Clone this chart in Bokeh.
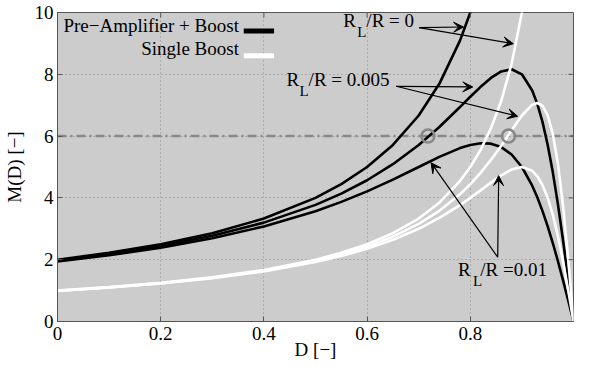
from bokeh.plotting import figure
from bokeh.models import (Range1d, FixedTicker, Label, Arrow, VeeHead, Span)
from bokeh.embed import file_html
from bokeh.resources import INLINE

# ---------------- data ----------------
D_values = [0, 0.1, 0.2, 0.3, 0.4, 0.5, 0.55, 0.6, 0.65, 0.7, 0.74, 0.78,
            0.8, 0.82, 0.84, 0.86, 0.88, 0.9, 0.92, 0.93, 0.94, 0.95, 0.96,
            0.97, 0.98, 0.99, 1.0]

single_r0 = [1.0, 1.111, 1.25, 1.429, 1.667, 2.0, 2.222, 2.5, 2.857, 3.333,
             3.846, 4.545, 5.0, 5.556, 6.25, 7.143, 8.333, 10.0, 12.5]
single_r005 = [0.995, 1.104, 1.240, 1.414, 1.644, 1.961, 2.169, 2.424, 2.745,
               3.158, 3.581, 4.120, 4.444, 4.813, 5.229, 5.691, 6.186, 6.667,
               7.018, 7.071, 6.977, 6.667, 6.061, 5.085, 3.704, 1.961, 0]
single_r01 = [0.990, 1.098, 1.231, 1.400, 1.622, 1.923, 2.118, 2.353, 2.642,
              3.000, 3.351, 3.767, 4.000, 4.245, 4.494, 4.730, 4.918, 5.000,
              4.878, 4.698, 4.412, 4.000, 3.448, 2.752, 1.923, 0.990, 0]

pre_r0 = [2.0, 2.222, 2.5, 2.857, 3.333, 4.0, 4.444, 5.0, 5.714, 6.667,
          7.692, 9.091, 10.0, 11.111]
pre_r005 = [1.970, 2.182, 2.443, 2.772, 3.200, 3.774, 4.138, 4.571, 5.091,
            5.714, 6.295, 6.940, 7.273, 7.595, 7.882, 8.092, 8.163, 8.000,
            7.477, 7.035, 6.452, 5.714, 4.819, 3.774, 2.597, 1.325, 0]
pre_r01 = [1.942, 2.143, 2.388, 2.692, 3.077, 3.571, 3.871, 4.211, 4.590,
           5.000, 5.328, 5.612, 5.714, 5.769, 5.755, 5.645, 5.405, 5.000,
           4.396, 4.011, 3.571, 3.077, 2.532, 1.942, 1.316, 0.664, 0]

target_gain = 6
circle_D = [0.718, 0.874]
circle_M = [6, 6]

x_ticks = [0, 0.2, 0.4, 0.6, 0.8]
x_tick_labels = ["0", "0.2", "0.4", "0.6", "0.8"]
y_ticks = [0, 2, 4, 6, 8, 10]
y_tick_labels = ["0", "2", "4", "6", "8", "10"]

legend_labels = ["Pre\u2212Amplifier + Boost", "Single Boost"]

FONT = "Liberation Serif"
FS = "19px"
FRAME_W, FRAME_H = 521, 309

# ---------------- figure ----------------
p = figure(width=574, height=364, x_range=Range1d(0, 1), y_range=Range1d(0, 10),
           output_backend="svg", toolbar_location=None,
           min_border_left=52, min_border_right=1, min_border_top=12,
           min_border_bottom=43)
p.background_fill_color = "#cccccc"
p.border_fill_color = "white"
p.outline_line_color = "#555555"
p.outline_line_width = 1

for ax in (p.xaxis[0], p.yaxis[0]):
    ax.major_tick_in = 5
    ax.major_tick_out = 0
    ax.minor_tick_line_color = None
    ax.axis_line_color = "#555555"
    ax.major_tick_line_color = "#555555"
    ax.major_label_text_font = FONT
    ax.major_label_text_font_size = FS
    ax.major_label_text_color = "black"
    ax.axis_label_text_font = FONT
    ax.axis_label_text_font_size = FS
    ax.axis_label_text_font_style = "normal"
    ax.axis_label_text_color = "black"

p.xaxis.ticker = FixedTicker(ticks=x_ticks)
p.yaxis.ticker = FixedTicker(ticks=y_ticks)
p.xaxis.major_label_overrides = dict(zip(x_ticks, x_tick_labels))
p.yaxis.major_label_overrides = dict(zip(y_ticks, y_tick_labels))
p.xaxis.axis_label = "D [\u2212]"
p.yaxis.axis_label = "M(D) [\u2212]"
p.xaxis.major_label_standoff = 5
p.yaxis.major_label_standoff = 4
p.xaxis.axis_label_standoff = -4
p.yaxis.axis_label_standoff = 7

p.xgrid.ticker = FixedTicker(ticks=x_ticks)
p.ygrid.ticker = FixedTicker(ticks=y_ticks)
for g in (p.xgrid[0], p.ygrid[0]):
    g.grid_line_color = "#8a8a8a"
    g.grid_line_dash = "1 3"
    g.grid_line_width = 1

# mirrored inward ticks on the right and top edges of the box
tick_dx = 5 / FRAME_W
tick_dy = 5 / FRAME_H * 10
for t in y_ticks[1:-1]:
    p.add_layout(Arrow(end=None, x_start=1, y_start=t, x_end=1 - tick_dx, y_end=t,
                       line_color="#555555", line_width=1))
for t in x_ticks[1:]:
    p.add_layout(Arrow(end=None, x_start=t, y_start=10, x_end=t, y_end=10 - tick_dy,
                       line_color="#555555", line_width=1))

# reference level
p.add_layout(Span(location=target_gain, dimension="width", line_color="#888888",
                  line_width=2.5, line_dash="9 4 2 4", level="underlay"))

# curves
LW = 2.6
p.line(D_values[:len(pre_r0)], pre_r0, line_color="black", line_width=LW)
p.line(D_values, pre_r005, line_color="black", line_width=LW)
p.line(D_values, pre_r01, line_color="black", line_width=LW)
p.line(D_values[:len(single_r0)], single_r0, line_color="white", line_width=LW)
p.line(D_values, single_r005, line_color="white", line_width=LW)
p.line(D_values, single_r01, line_color="white", line_width=LW)

p.scatter(circle_D, circle_M, size=13, fill_color=None, line_color="#888888",
          line_width=2.5)

# legend (manual, label on the left of the sample)
p.add_layout(Label(x=0.3516, y=9.227, text=legend_labels[0], text_align="right",
                   text_font=FONT, text_font_size=FS, text_color="black"))
p.add_layout(Label(x=0.3516, y=8.498, text=legend_labels[1], text_align="right",
                   text_font=FONT, text_font_size=FS, text_color="black"))
p.add_layout(Arrow(end=None, x_start=0.361, y_start=9.405, x_end=0.4197, y_end=9.405,
                   line_color="black", line_width=5))
p.add_layout(Arrow(end=None, x_start=0.361, y_start=8.601, x_end=0.4197, y_end=8.601,
                   line_color="white", line_width=5))


def rl_label(x, y, dxl, dxr, rest):
    p.add_layout(Label(x=x, y=y, text="R", text_font=FONT, text_font_size=FS,
                       text_color="black"))
    p.add_layout(Label(x=x, y=y, x_offset=dxl, y_offset=-9.5, text="L",
                       text_font=FONT, text_font_size="15px", text_color="black"))
    p.add_layout(Label(x=x, y=y, x_offset=dxr, text=rest, text_font=FONT,
                       text_font_size=FS, text_color="black"))


rl_label(0.554, 9.405, 14, 23, "/R = 0")
rl_label(0.444, 7.505, 13, 22, "/R = 0.005")
rl_label(0.776, 1.352, 15, 22.3, "/R =0.01")


def arrow(x0, y0, x1, y1):
    p.add_layout(Arrow(end=VeeHead(size=10, fill_color="black", line_color="black",
                                   line_width=1),
                       x_start=x0, y_start=y0, x_end=x1, y_end=y1,
                       line_color="black", line_width=1.2))


arrow(0.7008, 9.508, 0.787, 9.53)
arrow(0.7008, 9.508, 0.8834, 8.989)
arrow(0.6565, 7.612, 0.8047, 7.59)
arrow(0.6565, 7.612, 0.8917, 6.642)
arrow(0.8531, 2.081, 0.724, 5.139)
arrow(0.8531, 2.081, 0.855, 4.72)

open("out.html", "w").write(file_html(p, INLINE))
